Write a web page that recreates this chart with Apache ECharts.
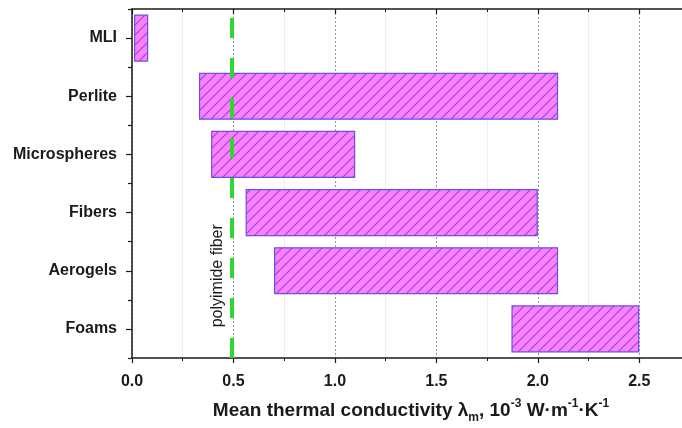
<!DOCTYPE html>
<html><head><meta charset="utf-8">
<script src="https://cdn.jsdelivr.net/npm/echarts@6/dist/echarts.min.js"></script>
<style>html,body{margin:0;padding:0;background:#fff;overflow:hidden}#c{width:682px;height:428px}</style>
</head><body><div id="c"></div>
<script>
const categories = ['MLI', 'Perlite', 'Microspheres', 'Fibers', 'Aerogels', 'Foams'];
const lowValues  = [0.01, 0.33, 0.39, 0.56, 0.70, 1.87];
const highValues = [0.08, 2.10, 1.10, 2.00, 2.10, 2.50];
const polyimideFiber = 0.49;
const fiberLabel = 'polyimide fiber';
const xTickValues = [0, 0.5, 1.0, 1.5, 2.0, 2.5];

const FONT = '"Liberation Sans", Arial, sans-serif';
const pc = document.createElement('canvas');
pc.width = 10; pc.height = 10;
const ctx = pc.getContext('2d');
ctx.fillStyle = '#ff80ff'; ctx.fillRect(0, 0, 10, 10);
ctx.strokeStyle = '#8a48e4'; ctx.lineWidth = 1.1;
ctx.beginPath();
ctx.moveTo(0, 10); ctx.lineTo(10, 0);
ctx.moveTo(-5, 5); ctx.lineTo(5, -5);
ctx.moveTo(5, 15); ctx.lineTo(15, 5);
ctx.stroke();

const chart = echarts.init(document.getElementById('c'));
const axisLine = { show: true, lineStyle: { color: '#1a1a1a', width: 1.5 } };
const spans = highValues.map((h, i) => +(h - lowValues[i]).toFixed(3));

chart.setOption({
  animation: false,
  grid: { left: 132, top: 9, width: 558, height: 349, containLabel: false, outerBoundsMode: 'none' },
  xAxis: [{
    type: 'value', position: 'bottom', min: 0, max: 2.75, interval: 0.5,
    axisLine: axisLine,
    axisTick: { show: true, length: 5, lineStyle: { color: '#1a1a1a', width: 1.2 } },
    minorTick: { show: true, splitNumber: 2, length: 3, lineStyle: { color: '#1a1a1a', width: 1 } },
    axisLabel: {
      margin: 16, fontFamily: FONT, fontSize: 16, fontWeight: 'bold', color: '#1a1a1a',
      formatter: v => xTickValues.some(t => Math.abs(t - v) < 1e-6) ? v.toFixed(1) : ''
    },
    splitLine: { show: true, lineStyle: { color: '#9a9a9a', type: [2, 2], width: 1 } },
    minorSplitLine: { show: true, lineStyle: { color: '#ececec', width: 1 } },
    name: '{b|Mean thermal conductivity λ}{sub|m}{b|, 10}{sup|-3}{b| W·m}{sup|-1}{b|·K}{sup|-1}',
    nameLocation: 'middle', nameGap: 40,
    nameTextStyle: {
      rich: {
        b: { fontFamily: FONT, fontSize: 19, fontWeight: 'bold', color: '#1a1a1a', lineHeight: 26 },
        sub: { fontFamily: FONT, fontSize: 12, fontWeight: 'bold', color: '#1a1a1a', verticalAlign: 'bottom', lineHeight: 11 },
        sup: { fontFamily: FONT, fontSize: 12, fontWeight: 'bold', color: '#1a1a1a', verticalAlign: 'top', lineHeight: 11 }
      }
    }
  }, {
    type: 'value', position: 'top', min: 0, max: 2.75, interval: 0.5,
    axisLine: axisLine,
    axisTick: { show: true, inside: true, length: 5, lineStyle: { color: '#1a1a1a', width: 1.2 } },
    minorTick: { show: true, splitNumber: 2, length: 3, lineStyle: { color: '#1a1a1a', width: 1 } },
    axisLabel: { show: false },
    splitLine: { show: false }
  }],
  yAxis: [{
    type: 'category', position: 'left', inverse: true, data: categories,
    axisLine: axisLine,
    axisTick: { show: true, alignWithLabel: true, length: 6, lineStyle: { color: '#1a1a1a', width: 1.2 } },
    axisLabel: { margin: 15, fontFamily: FONT, fontSize: 16, fontWeight: 'bold', color: '#1a1a1a' },
    splitLine: { show: false }
  }, {
    type: 'category', position: 'left', inverse: true, data: categories,
    axisLine: { show: false },
    axisTick: { show: true, alignWithLabel: false, length: 4, lineStyle: { color: '#1a1a1a', width: 1.2 } },
    axisLabel: { show: false },
    splitLine: { show: false }
  }],
  series: [{
    type: 'bar', stack: 'r', xAxisIndex: 0, yAxisIndex: 0, barWidth: '81%',
    data: lowValues, silent: true,
    itemStyle: { color: 'rgba(0,0,0,0)' }
  }, {
    type: 'bar', stack: 'r', xAxisIndex: 0, yAxisIndex: 0, barWidth: '81%',
    data: spans,
    itemStyle: { color: { image: pc, repeat: 'repeat' }, borderColor: '#6a4ee8', borderWidth: 1.2 },
    markLine: {
      silent: true, symbol: ['none', 'none'], label: { show: false }, z: 10,
      lineStyle: { color: '#2fd82f', width: 4, type: [20, 20], dashOffset: 31 },
      data: [{ xAxis: polyimideFiber }]
    }
  }]
});

const p = chart.convertToPixel({ xAxisIndex: 0, yAxisIndex: 0 }, [polyimideFiber, 'Aerogels']);
chart.setOption({
  graphic: [{
    type: 'text', x: p[0] - 14, y: p[1] + 5, rotation: Math.PI / 2,
    style: { text: fiberLabel, font: '16px ' + FONT, fill: '#1a1a1a', align: 'center', verticalAlign: 'middle' }
  }]
});
</script></body></html>
